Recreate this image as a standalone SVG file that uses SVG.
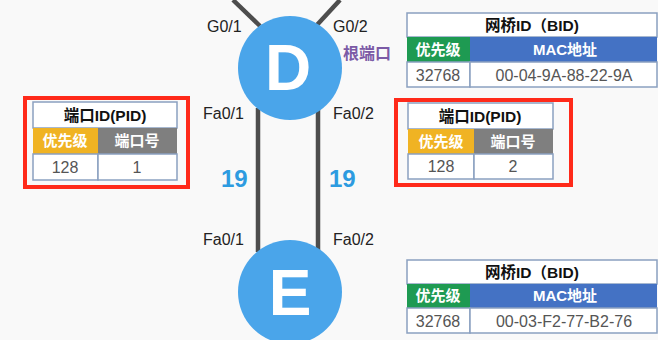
<svg xmlns="http://www.w3.org/2000/svg" width="658" height="340" viewBox="0 0 658 340">
<style>
.bg{fill:#f9f9f9}
.link{stroke:#4d4d4d;stroke-width:4.5;fill:none}
.sw{fill:#4aa5ea}
.swt{font-family:"Liberation Sans",Arial,sans-serif;font-weight:bold;fill:#fff;text-anchor:middle}
.port{font-family:"Liberation Sans",Arial,sans-serif;font-size:16px;fill:#222}
.cost{font-family:"Liberation Sans",Arial,sans-serif;font-size:24px;font-weight:bold;fill:#2d9be0}
.root{font-family:"Noto Sans CJK SC",sans-serif;font-size:16px;font-weight:bold;fill:#7b5aa6}
.cell{fill:#fff;stroke:#8aa0c0;stroke-width:1.5}
.hdr{font-family:"Liberation Sans","Noto Sans CJK SC",sans-serif;font-size:15.5px;font-weight:bold;fill:#111;text-anchor:middle}
.lab{font-family:"Liberation Sans","Noto Sans CJK SC",sans-serif;font-size:15px;font-weight:bold;fill:#fff;text-anchor:middle}
.val{font-family:"Liberation Sans","Noto Sans CJK SC",sans-serif;font-size:16px;fill:#555;text-anchor:middle}
.red{fill:none;stroke:#ff2a1a;stroke-width:4}
.orange{fill:#f0b323}
.gray{fill:#7f7f7f}
.green{fill:#1e9a52}
.blue{fill:#4472c4}
</style>
<rect class="bg" x="0" y="0" width="658" height="340"/>
<g id="connectors">
<line class="link" x1="233" y1="0" x2="260" y2="26"/>
<line class="link" x1="340" y1="0" x2="316" y2="26"/>
<line class="link" x1="258" y1="108" x2="258" y2="252"/>
<line class="link" x1="318" y1="108" x2="318" y2="252"/>
</g>
<g id="labels">
<text class="port" x="207" y="32">G0/1</text>
<text class="port" x="333" y="32">G0/2</text>
<text class="root" x="343" y="59">根端口</text>
<text class="port" x="203" y="119">Fa0/1</text>
<text class="port" x="333" y="119">Fa0/2</text>
<text class="cost" x="221" y="187">19</text>
<text class="cost" x="329" y="187">19</text>
<text class="port" x="203" y="245">Fa0/1</text>
<text class="port" x="333" y="245">Fa0/2</text>
</g>
<g id="D">
<circle class="sw" cx="290" cy="68" r="52"/>
<text class="swt" x="288" y="90" font-size="64">D</text>
</g>
<g id="E">
<circle class="sw" cx="290" cy="292" r="52"/>
<text class="swt" x="290" y="315" font-size="64">E</text>
</g>
<g id="bid-d">
<rect class="cell" x="407" y="13" width="250" height="24"/>
<rect class="green" x="407" y="37" width="63" height="25"/>
<rect class="blue" x="470" y="37" width="187" height="25"/>
<rect class="cell" x="407" y="62" width="63" height="25"/>
<rect class="cell" x="470" y="62" width="187" height="25"/>
<text class="hdr" x="532" y="31">网桥ID（BID)</text>
<text class="lab" x="438" y="55">优先级</text>
<text class="lab" x="565" y="55">MAC地址</text>
<text class="val" x="438" y="81">32768</text>
<text class="val" x="564" y="81">00-04-9A-88-22-9A</text>
</g>
<g id="bid-e">
<rect class="cell" x="407" y="260" width="250" height="24"/>
<rect class="green" x="407" y="284" width="63" height="24"/>
<rect class="blue" x="470" y="284" width="187" height="24"/>
<rect class="cell" x="407" y="308" width="63" height="25"/>
<rect class="cell" x="470" y="308" width="187" height="25"/>
<text class="hdr" x="532" y="278">网桥ID（BID)</text>
<text class="lab" x="438" y="301">优先级</text>
<text class="lab" x="565" y="301">MAC地址</text>
<text class="val" x="438" y="327">32768</text>
<text class="val" x="564" y="327">00-03-F2-77-B2-76</text>
</g>
<g id="pid-left">
<rect class="red" x="25" y="98" width="163" height="89"/>
<rect class="cell" x="33" y="102" width="144" height="26"/>
<rect class="orange" x="33" y="128" width="65" height="26"/>
<rect class="gray" x="98" y="128" width="79" height="26"/>
<rect class="cell" x="33" y="154" width="65" height="26"/>
<rect class="cell" x="98" y="154" width="79" height="26"/>
<text class="hdr" x="105" y="121">端口ID(PID)</text>
<text class="lab" x="65" y="146">优先级</text>
<text class="lab" x="137" y="146">端口号</text>
<text class="val" x="65" y="173">128</text>
<text class="val" x="137" y="173">1</text>
</g>
<g id="pid-right">
<rect class="red" x="396" y="100" width="175" height="85"/>
<rect class="cell" x="408" y="103" width="145" height="26"/>
<rect class="orange" x="408" y="129" width="66" height="25"/>
<rect class="gray" x="474" y="129" width="79" height="25"/>
<rect class="cell" x="408" y="154" width="66" height="25"/>
<rect class="cell" x="474" y="154" width="79" height="25"/>
<text class="hdr" x="480" y="122">端口ID(PID)</text>
<text class="lab" x="441" y="147">优先级</text>
<text class="lab" x="513" y="147">端口号</text>
<text class="val" x="441" y="172">128</text>
<text class="val" x="513" y="172">2</text>
</g>
</svg>
